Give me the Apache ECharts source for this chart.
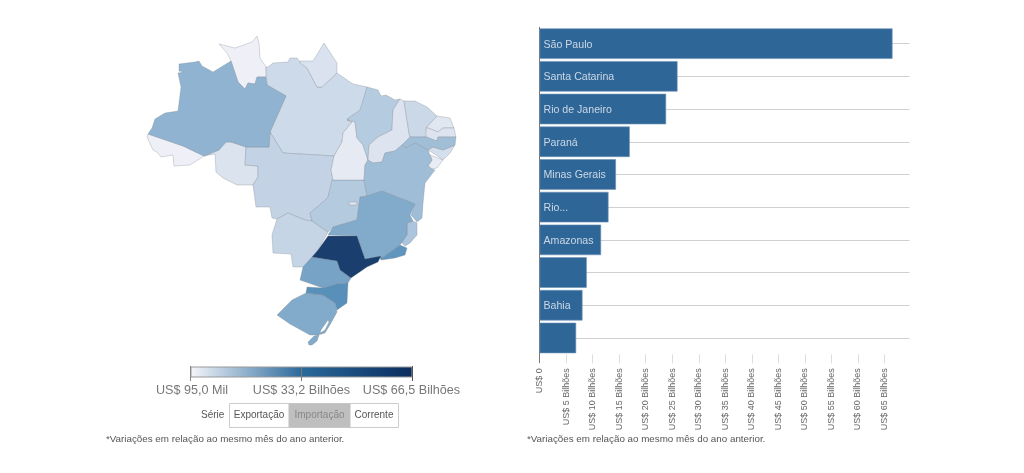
<!DOCTYPE html>
<html><head><meta charset="utf-8">
<style>html,body{margin:0;padding:0;background:#fff}#c{width:1024px;height:473px}</style>
<script src="https://cdn.jsdelivr.net/npm/echarts@6/dist/echarts.min.js"></script>
</head><body><div id="c"></div>
<script>
// Bar chart data (US$ bilhões)
const barCategories = ['São Paulo','Santa Catarina','Rio de Janeiro','Paraná','Minas Gerais','Rio...','Amazonas','','Bahia',''];
const barValues = [66.5,26.0,23.85,17.0,14.4,13.0,11.6,8.9,8.1,6.9];
const tickValues = [0,5,10,15,20,25,30,35,40,45,50,55,60,65];
const legendLabels = ['US$ 95,0 Mil','US$ 33,2 Bilhões','US$ 66,5 Bilhões'];
const seriesButtons = ['Exportação','Importação','Corrente'];
const footnote = '*Variações em relação ao mesmo mês do ano anterior.';

// Map data
const stateNames = ['AC','RR','RO','PA','AP','MT','MS','GO','DF','TO','MA','PI','CE','RN','PB','AL','SE','PE','BA','ES','AM','RS','PR','SC','MG','RJ','SP'];
const stateValues = [0.3,0.3,2.3,3.7,2.5,4.7,4.5,6.1,2.1,1.2,6.0,2.1,4.0,1.7,2.1,3.0,1.0,8.0,8.1,6.9,11.6,14.5,17.0,26.0,14.4,23.85,66.5];
// Outlines, in its own map units
const AC=[[[[148,134],[183,146],[204,156],[190,165],[174,166],[173,155],[161,157],[157,152],[153,150],[147,137]]]];
const AM=[[[[148,134],[152,128],[155,119],[165,113],[178,111],[181,87],[178,73],[184,72],[179,71],[179,64],[195,62],[199,61],[202,66],[213,72],[231,61],[238,82],[245,89],[248,83],[255,84],[257,77],[266,77],[267,85],[286,96],[270,132],[269,147],[246,147],[231,142],[226,142],[219,150],[204,156],[183,146]]]];
const RO=[[[[204,156],[219,150],[226,142],[231,142],[246,147],[245,165],[258,166],[258,177],[253,185],[237,185],[223,178],[216,172],[215,154]]]];
const RR=[[[[219,44],[231,47],[235,48],[252,42],[257,36],[259,43],[260,58],[266,67],[266,77],[257,77],[255,84],[248,83],[245,89],[238,82],[231,61],[227,53]]]];
const AP=[[[[300,61],[313,61],[324,43],[337,63],[337,73],[322,87],[317,87],[307,68],[300,63]]]];
const PA=[[[[266,67],[268,67],[273,63],[288,62],[290,58],[297,58],[300,62],[307,68],[317,87],[322,87],[337,73],[350,82],[353,84],[367,87],[362,110],[347,120],[352,122],[343,133],[342,142],[334,156],[300,154],[283,153],[270,132],[286,96],[267,85]]]];
const MA=[[[[367,87],[378,90],[381,96],[386,95],[395,100],[400,99],[393,110],[392,130],[378,137],[369,145],[368,160],[363,145],[357,138],[355,122],[347,119],[360,110]]]];
const TO=[[[[347,120],[355,122],[357,138],[363,145],[368,160],[365,165],[364,180],[333,180],[331,170],[334,156],[342,142],[343,133],[352,122]]]];
const PI=[[[[400,99],[404,101],[409,133],[410,138],[402,145],[395,151],[385,153],[382,162],[373,163],[368,160],[369,145],[378,137],[392,130],[393,110]]]];
const CE=[[[[404,101],[415,101],[427,107],[437,116],[426,128],[427,137],[410,137],[409,133]]]];
const RN=[[[[437,116],[450,118],[454,128],[443,128],[438,132],[428,128],[426,128]]]];
const PB=[[[[426,129],[428,128],[438,132],[443,128],[454,128],[456,137],[438,137],[437,141],[430,140],[426,137]]]];
const PE=[[[[410,137],[427,137],[437,141],[438,137],[456,137],[455,145],[443,150],[433,147],[428,150],[415,143],[406,148],[402,145]]]];
const AL=[[[[428,150],[433,147],[443,150],[455,145],[450,153],[443,160],[433,153]]]];
const SE=[[[[430,155],[443,160],[437,168],[432,169],[428,166],[432,160]]]];
const BA=[[[[368,160],[373,163],[382,162],[385,153],[395,151],[402,145],[406,148],[415,143],[428,150],[430,155],[432,160],[428,166],[432,169],[435,170],[425,183],[423,203],[422,218],[417,222],[411,215],[415,204],[382,191],[367,196],[364,180],[365,165]]]];
const MG=[[[[382,191],[415,204],[410,215],[413,221],[407,223],[407,235],[400,245],[382,258],[365,259],[357,236],[328,235],[333,227],[350,222],[357,220],[360,197],[367,196]]]];
const ES=[[[[413,221],[417,223],[417,235],[410,243],[405,246],[400,241],[407,235],[407,223]]]];
const RJ=[[[[400,245],[407,248],[405,255],[395,258],[381,260],[380,257],[382,258]]]];
const SP=[[[[328,236],[357,236],[365,259],[381,256],[378,262],[367,267],[351,278],[340,270],[337,261],[312,257],[318,250]]]];
const PR=[[[[312,257],[337,261],[340,270],[351,278],[348,283],[337,284],[323,288],[300,280],[303,267]]]];
const SC=[[[[307,287],[323,288],[337,284],[348,283],[347,303],[337,310],[335,303],[323,295],[306,293]]]];
const RS=[[[[306,293],[323,295],[335,303],[337,312],[331,323],[325,333],[318,335],[310,335],[290,324],[277,315],[292,300]],[[328,320],[321,330],[320,333],[325,330],[329,322]]],[[[319,335],[314,336],[308,342],[309,345],[312,345],[317,341]]]];
const MS=[[[[272,235],[277,219],[288,213],[305,220],[312,221],[328,232],[318,250],[312,257],[303,267],[293,267],[291,254],[273,253]]]];
const GO=[[[[312,221],[310,213],[322,203],[328,197],[332,180],[364,180],[367,196],[360,197],[357,220],[350,222],[333,227],[328,232]]]];
const DF=[[[[349,202],[357,202],[357,205],[349,205]]]];
const MT=[[[[246,147],[269,147],[270,132],[283,153],[334,156],[331,170],[333,180],[328,197],[322,203],[310,213],[312,221],[305,220],[288,213],[277,219],[272,218],[270,207],[256,207],[253,185],[258,177],[258,166],[245,165]]]];
const stateShapes = {AC,AM,RO,RR,AP,PA,MA,TO,PI,CE,RN,PB,PE,AL,SE,BA,MG,ES,RJ,SP,PR,SC,RS,MS,GO,DF,MT};
const mapColors = ['#F2F2F8','#9EBCD6','#78A4C6','#5C93BC','#3F7BA8','#35699A','#2B5787','#22497A','#1A3E6E'];

const flip = p => [p[0], -p[1]];
echarts.registerMap('brasil', {type:'FeatureCollection', features: stateNames.map(n => ({
  type:'Feature', properties:{name:n},
  geometry:{type:'MultiPolygon', coordinates: stateShapes[n].map(poly => poly.map(ring => ring.map(flip)))}
}))});

const FONT = 'Arial, "Liberation Sans", sans-serif';
const FOOT = `9.8px ${FONT}`;
const LEG = `12.6px ${FONT}`;
const text = (x,y,t,o={}) => ({type:'text',silent:true,x,y,z:10,style:Object.assign({text:t,x:0,y:0,font:`10px ${FONT}`,fill:'#555',textVerticalAlign:'middle'},o)});
const rect = (x,y,w,h,fill,stroke) => ({type:'rect',silent:true,z:9,shape:{x,y,width:w,height:h},style:{fill,stroke,lineWidth:1}});
const line = (x1,y1,x2,y2,stroke) => ({type:'line',silent:true,z:11,shape:{x1,y1,x2,y2},style:{stroke,lineWidth:1}});

const chart = echarts.init(document.getElementById('c'), null, {renderer:'canvas'});
chart.setOption({
  animation:false,
  textStyle:{fontFamily:FONT},
  visualMap:{type:'continuous',show:false,seriesIndex:0,min:0,max:66.5,inRange:{color:mapColors}},
  grid:{left:539.5,top:27.3,width:370,height:327,containLabel:false},
  xAxis:{type:'value',min:0,max:69.7,position:'bottom',
    axisLine:{show:false},
    axisTick:{show:true,length:9,customValues:tickValues,lineStyle:{color:'#ddd'},inside:false},
    axisLabel:{customValues:tickValues,rotate:90,margin:14,fontSize:9,color:'#666',
      formatter:v => v===0?'US$ 0':`US$ ${v} Bilhões`},
    splitLine:{show:false}},
  yAxis:{type:'category',inverse:true,data:barCategories,
    axisLine:{show:true,lineStyle:{color:'#777'}},
    axisTick:{show:false},axisLabel:{show:false},
    splitLine:{show:true,alignWithLabel:true,lineStyle:{color:'#d0d0d0'}}},
  series:[
    {type:'map',map:'brasil',silent:true,aspectScale:1,roam:false,
      boundingCoords:[[140,-30],[460,-350]],left:140,top:30,width:320,height:320,
      label:{show:false},emphasis:{disabled:true},select:{disabled:true},
      itemStyle:{borderColor:'rgba(120,130,140,0.3)',borderWidth:1},
      data:stateNames.map((n,i)=>({name:n,value:stateValues[i]}))},
    {type:'bar',data:barValues,barWidth:30.5,
      itemStyle:{color:'#2F6698',borderColor:'#6c94b7',borderWidth:0.6},
      label:{show:true,position:'insideLeft',distance:4,offset:[0,1],formatter:p=>barCategories[p.dataIndex],
        fontSize:10.6,color:'#CBD8E5',fontFamily:FONT}}
  ],
  graphic:[
    {type:'rect',silent:true,z:9,shape:{x:191,y:367,width:221,height:10},
      style:{stroke:'#999',lineWidth:1,fill:new echarts.graphic.LinearGradient(0,0,1,0,[
        {offset:0,color:'#F5F5FA'},{offset:0.5,color:'#2A6A9C'},{offset:1,color:'#0B2C5E'}])}},
    line(190.5,366,190.5,381,'#888'),line(301.5,367,301.5,381,'#777'),line(412.5,366,412.5,381,'#555'),
    text(192,391,legendLabels[0],{font:LEG,textAlign:'center',fill:'#777'}),
    text(301.5,391,legendLabels[1],{font:LEG,textAlign:'center',fill:'#777'}),
    text(411.5,391,legendLabels[2],{font:LEG,textAlign:'center',fill:'#777'}),
    text(201,415,'Série',{fill:'#555'}),
    rect(229.5,403.5,169,24,'#fff','#ccc'),
    rect(289,404,61,23,'#BFBFBF','#BFBFBF'),
    text(259,415,seriesButtons[0],{textAlign:'center'}),
    text(319.5,415,seriesButtons[1],{textAlign:'center',fill:'#888'}),
    text(374,415,seriesButtons[2],{textAlign:'center'}),
    text(106,439,footnote,{font:FOOT}),
    text(527,439,footnote,{font:FOOT}),
    line(539.5,354,539.5,363,'#777')
  ]
});
</script></body></html>
